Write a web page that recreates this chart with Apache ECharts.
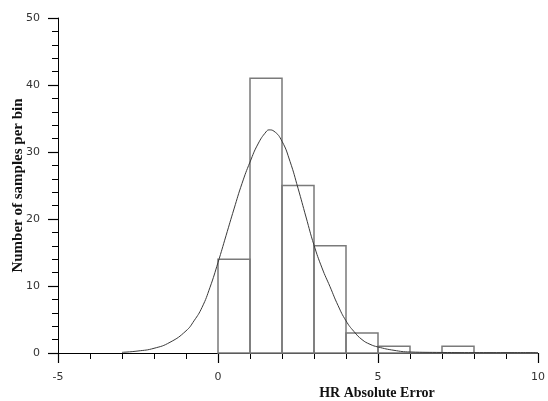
<!DOCTYPE html>
<html>
<head>
<meta charset="utf-8">
<script src="https://cdn.jsdelivr.net/npm/echarts@6/dist/echarts.min.js"></script>
<style>
  html, body { margin: 0; padding: 0; background: #fff; }
  #chart { width: 548px; height: 401px; }
</style>
</head>
<body>
<div id="chart"></div>
<script>
// histogram bins (start, end) and counts
var binStart = [0, 1, 2, 3, 4, 5, 6, 7, 8, 9];
var binEnd   = [1, 2, 3, 4, 5, 6, 7, 8, 9, 10];
var binCount = [14, 41, 25, 16, 3, 1, 0, 1, 0, 0];

// fitted curve
var curveX = [-3, -2.5, -2, -1.5, -1, -0.75, -0.5, -0.25, 0, 0.25, 0.5, 0.75, 1, 1.25, 1.5, 1.6, 1.75, 2, 2.25, 2.5, 2.75, 3, 3.25, 3.5, 3.75, 4, 4.25, 4.5, 4.75, 5, 5.5, 6, 7, 8, 9, 10];
var curveY = [0.1, 0.3, 0.7, 1.6, 3.3, 4.8, 6.8, 9.8, 13.5, 17.5, 21.5, 25.3, 28.5, 31.2, 33, 33.3, 33.1, 31.6, 28.6, 24.6, 20.3, 16.1, 12.7, 9.9, 7.1, 4.8, 3.2, 2.0, 1.3, 0.9, 0.4, 0.15, 0.08, 0.05, 0.05, 0.05];

var chart = echarts.init(document.getElementById('chart'));

var bins = [];
for (var i = 0; i < binStart.length; i++) bins.push([binStart[i], binEnd[i], binCount[i]]);
var curve = [];
for (var j = 0; j < curveX.length; j++) curve.push([curveX[j], curveY[j]]);

var tickLabel = { color: '#333', fontSize: 11, fontFamily: 'DejaVu Sans' };
var titleFont = { color: '#111', fontSize: 15, fontWeight: 'bold', fontFamily: 'Liberation Serif' };

var option = {
    animation: false,
    grid: { left: 58, right: 10, top: 18, bottom: 48, outerBoundsMode: 'none' },
    xAxis: {
        type: 'value', min: -5, max: 10, interval: 5,
        axisLine: { show: true, onZero: false, lineStyle: { color: '#000', width: 1 } },
        axisTick: { show: true, length: 10, lineStyle: { color: '#000', width: 1.2 } },
        minorTick: { show: true, splitNumber: 5, length: 6, lineStyle: { color: '#000', width: 1 } },
        axisLabel: { margin: 19, color: tickLabel.color, fontSize: tickLabel.fontSize, fontFamily: tickLabel.fontFamily },
        splitLine: { show: false }
    },
    yAxis: {
        type: 'value', min: 0, max: 50, interval: 10,
        name: 'Number of samples per bin', nameLocation: 'middle', nameGap: 32,
        nameMoveOverlap: false,
        nameTextStyle: titleFont,
        axisLine: { show: true, onZero: false, lineStyle: { color: '#000', width: 1 } },
        axisTick: { show: true, length: 10, lineStyle: { color: '#000', width: 1.2 } },
        minorTick: { show: true, splitNumber: 5, length: 6, lineStyle: { color: '#000', width: 1 } },
        axisLabel: { margin: 18, color: tickLabel.color, fontSize: tickLabel.fontSize, fontFamily: tickLabel.fontFamily },
        splitLine: { show: false }
    },
    graphic: [
        {
            type: 'text', x: 377, y: 393,
            style: { text: 'HR Absolute Error', fill: '#111', font: 'bold 14px "Liberation Serif"', align: 'center', verticalAlign: 'middle' }
        }
    ],
    series: [
        {
            type: 'custom',
            data: bins,
            renderItem: function (params, api) {
                var p0 = api.coord([api.value(0), 0]);
                var p1 = api.coord([api.value(1), api.value(2)]);
                return {
                    type: 'rect',
                    shape: { x: p0[0], y: p1[1], width: p1[0] - p0[0], height: p0[1] - p1[1] },
                    style: { fill: 'none', stroke: '#7a7a7a', lineWidth: 1.5 }
                };
            },
            z: 2
        },
        {
            type: 'line',
            data: curve,
            smooth: 0.5,
            showSymbol: false,
            lineStyle: { color: '#3a3a3a', width: 1 },
            z: 3
        }
    ]
};
chart.setOption(option);
</script>
</body>
</html>
